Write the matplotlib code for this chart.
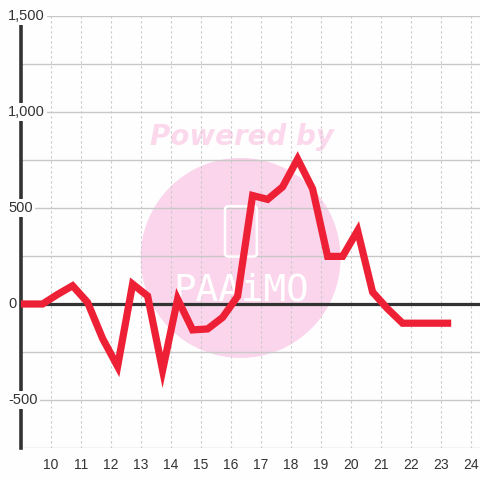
import matplotlib
matplotlib.use("Agg")
import matplotlib.pyplot as plt
from matplotlib.patches import Ellipse, FancyBboxPatch
from matplotlib.transforms import blended_transform_factory

# half-hour samples (hh:13 / hh:43)
hours = [8.72, 9.22, 9.72, 10.22, 10.72, 11.22, 11.72, 12.22, 12.72, 13.22,
         13.72, 14.22, 14.72, 15.22, 15.72, 16.22, 16.72, 17.22, 17.72, 18.22,
         18.72, 19.22, 19.72, 20.22, 20.72, 21.22, 21.72, 22.22, 22.72, 23.22]
values = [0, 0, 0, 50, 95, 8, -180, -325, 104, 42,
          -345, 26, -135, -130, -70, 40, 565, 545, 610, 755,
          600, 248, 248, 382, 62, -25, -100, -100, -100, -100]

x_ticks = list(range(10, 25))
y_ticks = [-500, 0, 500, 1000, 1500]
y_labels = ["-500", "0", "500", "1,000", "1,500"]

bg = "#fdfefd"
fig = plt.figure(figsize=(4.8, 4.8), dpi=100, facecolor=bg)
ax = fig.add_axes([21 / 480, 32 / 480, 459 / 480, 432 / 480], facecolor=bg)

ax.set_xlim(9.0, 24.3)
ax.set_ylim(-750, 1500)

# grid
for y in range(-750, 1501, 250):
    ax.axhline(y, color="#c8c8c8", lw=1.0, zorder=1)
for x in x_ticks:
    ax.axvline(x, color="#c8c8c8", lw=0.8, ls=(0, (2, 2.5)), zorder=1)

# watermark
ax.add_patch(Ellipse((16.32, 240), 200 / 30, 200 / 0.192, color="#fbd5ec", lw=0, zorder=0.2))
ax.text(16.35, 868, "Powered by", ha="center", va="center", fontsize=20,
        fontweight="bold", fontstyle="italic", color="#fcd8ec", zorder=0.3)
ax.add_patch(FancyBboxPatch((15.9, 262), 0.86, 232, boxstyle="round,pad=0.1,rounding_size=0.12",
                            mutation_aspect=150, fill=False, ec="white", lw=1.8, zorder=1.5))
ax.text(16.35, 72, "PAAiMO", ha="center", va="center", fontsize=27,
        family="DejaVu Sans Mono", color="white", zorder=1.5)

ax.axhline(0, color="#333333", lw=2.3, zorder=2)
ax.plot(hours, values, color="#ee2036", lw=5.2, solid_joinstyle="miter",
        solid_capstyle="projecting", zorder=3)

for s in ["top", "right", "bottom"]:
    ax.spines[s].set_visible(False)
ax.spines["left"].set_color("#333333")
ax.spines["left"].set_linewidth(2.6)
ax.spines["left"].set_zorder(2)

ax.set_xticks(x_ticks)
ax.set_xticklabels([str(t) for t in x_ticks], fontsize=10, family="Liberation Sans", color="#333333")
ax.tick_params(axis="x", length=0, pad=7)
ax.set_yticks([])

trans = blended_transform_factory(fig.transFigure, ax.transData)
for yv, lab in zip(y_ticks, y_labels):
    fig.text(8 / 480, yv, lab, transform=trans, ha="left", va="center", fontsize=10.5,
             family="Liberation Sans", color="#333333",
             bbox=dict(facecolor=bg, edgecolor="none", pad=1.5), zorder=5)

fig.savefig("out.png", dpi=100, facecolor=bg)
